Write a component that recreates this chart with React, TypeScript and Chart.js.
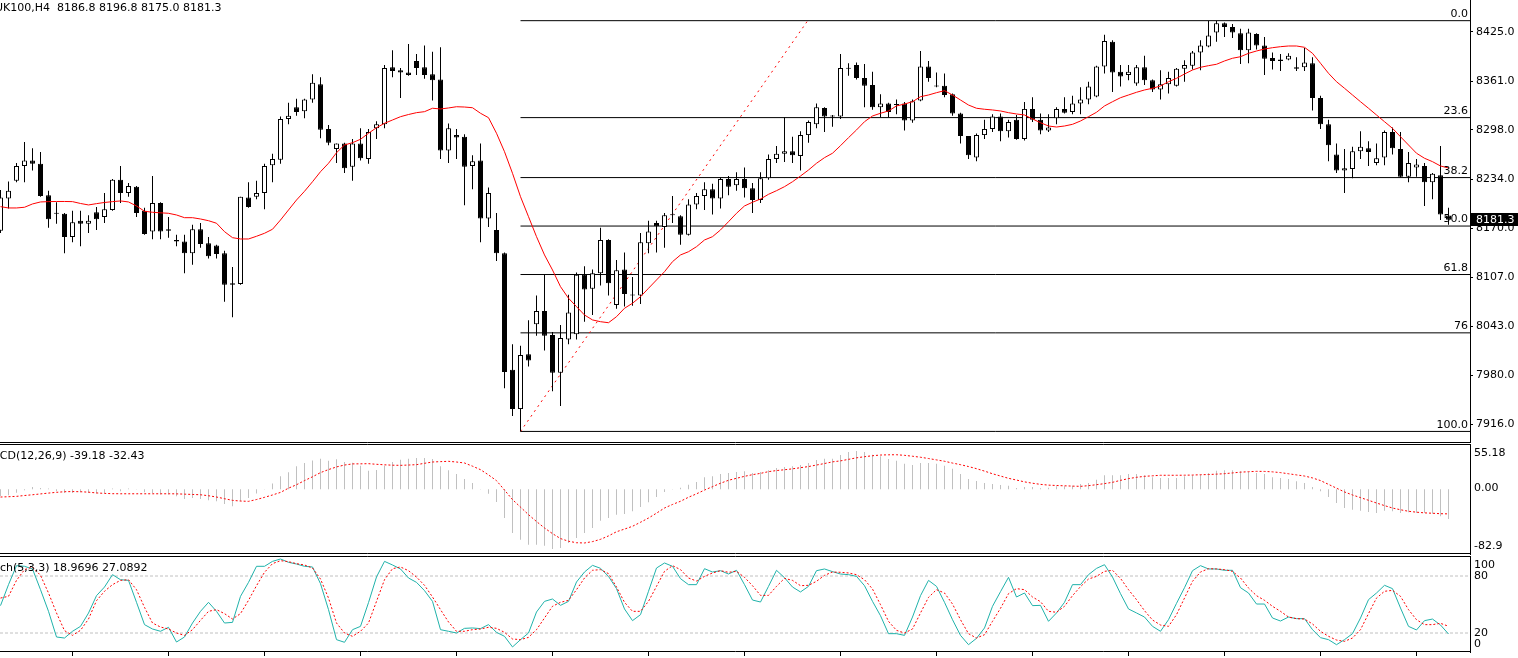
import React, { useEffect, useRef } from "react";
import { Chart, registerables } from "chart.js";

Chart.register(...registerables);

const FONT_FAMILY = '"DejaVu Sans", Verdana, sans-serif';

// ---------------- DATA ----------------
const opens = [
  8167, 8209, 8232, 8251, 8258, 8254, 8213, 8190, 8189, 8159,
  8180, 8176, 8191, 8185, 8194, 8233, 8216, 8224, 8193, 8166,
  8203, 8167, 8155, 8153, 8138, 8169, 8151, 8148, 8138, 8099,
  8098, 8210, 8211, 8216, 8252, 8259, 8312, 8327, 8322, 8337,
  8357, 8299, 8273, 8280, 8250, 8280, 8260, 8300, 8305, 8379,
  8375, 8372, 8387, 8379, 8370, 8363, 8271, 8291, 8289, 8251,
  8258, 8183, 8168, 8138, 7987, 7936, 8007, 8046, 8063, 8032,
  7983, 8026, 8033, 8110, 8092, 8112, 8155, 8071, 8117, 8084,
  8083, 8151, 8177, 8172, 8188, 8186, 8162, 8201, 8212, 8221,
  8209, 8234, 8226, 8234, 8222, 8207, 8235, 8260, 8267, 8270,
  8264, 8291, 8305, 8326, 8316, 8315, 8378, 8382, 8365, 8356,
  8327, 8332, 8331, 8332, 8310, 8336, 8380, 8355, 8355, 8344,
  8319, 8290, 8262, 8291, 8299, 8315, 8296, 8311, 8286, 8325,
  8311, 8297, 8313, 8325, 8321, 8332, 8337, 8341, 8380, 8412,
  8373, 8369, 8358, 8379, 8362, 8350, 8357, 8355, 8377, 8381,
  8398, 8406, 8424, 8436, 8431, 8423, 8401, 8422, 8407, 8391,
  8387, 8389, 8377, 8379, 8384, 8339, 8305, 8266, 8245, 8247,
  8270, 8274, 8255, 8262, 8295, 8273, 8237, 8249, 8251, 8230,
  8239, 8186.8,
];
const highs = [
  8220, 8231, 8255, 8282, 8274, 8269, 8219, 8204, 8190, 8193,
  8193, 8187, 8198, 8216, 8234, 8251, 8229, 8225, 8197, 8238,
  8204, 8185, 8162, 8162, 8175, 8177, 8159, 8149, 8141, 8120,
  8211, 8230, 8232, 8254, 8267, 8315, 8333, 8338, 8338, 8370,
  8366, 8304, 8280, 8281, 8286, 8300, 8299, 8309, 8382, 8401,
  8378, 8409, 8396, 8407, 8399, 8405, 8306, 8299, 8292, 8265,
  8280, 8223, 8190, 8139, 8020, 8018, 8051, 8083, 8111, 8036,
  8045, 8084, 8113, 8121, 8117, 8171, 8156, 8129, 8139, 8107,
  8164, 8180, 8180, 8190, 8212, 8187, 8208, 8216, 8230, 8228,
  8236, 8238, 8243, 8249, 8229, 8243, 8266, 8277, 8314, 8289,
  8296, 8310, 8332, 8327, 8317, 8396, 8384, 8385, 8383, 8373,
  8344, 8333, 8337, 8334, 8337, 8400, 8387, 8372, 8371, 8345,
  8320, 8290, 8293, 8311, 8318, 8319, 8311, 8317, 8334, 8340,
  8319, 8318, 8327, 8340, 8342, 8353, 8360, 8381, 8421, 8414,
  8382, 8382, 8382, 8394, 8363, 8375, 8373, 8378, 8388, 8400,
  8414, 8439, 8439, 8437, 8435, 8429, 8429, 8423, 8418, 8398,
  8396, 8397, 8392, 8404, 8392, 8342, 8311, 8280, 8273, 8276,
  8296, 8283, 8280, 8297, 8301, 8295, 8269, 8260, 8255, 8242,
  8277, 8196.8,
];
const lows = [
  8164, 8196, 8230, 8230, 8245, 8211, 8171, 8176, 8138, 8152,
  8147, 8164, 8168, 8177, 8193, 8203, 8211, 8185, 8162, 8156,
  8156, 8158, 8147, 8112, 8123, 8145, 8131, 8131, 8075, 8055,
  8097, 8197, 8208, 8195, 8230, 8254, 8305, 8316, 8313, 8333,
  8287, 8278, 8255, 8242, 8232, 8258, 8254, 8286, 8300, 8366,
  8339, 8368, 8369, 8364, 8336, 8260, 8255, 8260, 8200, 8221,
  8152, 8172, 8128, 7963, 7927, 7907, 7991, 8031, 8012, 7959,
  7940, 8020, 8026, 8049, 8058, 8096, 8083, 8066, 8069, 8070,
  8072, 8138, 8139, 8145, 8177, 8149, 8161, 8195, 8194, 8188,
  8196, 8213, 8219, 8210, 8190, 8203, 8233, 8255, 8256, 8255,
  8245, 8281, 8300, 8295, 8302, 8312, 8368, 8363, 8327, 8324,
  8314, 8314, 8318, 8297, 8307, 8335, 8360, 8353, 8340, 8316,
  8280, 8260, 8257, 8286, 8295, 8283, 8288, 8285, 8284, 8308,
  8292, 8295, 8305, 8319, 8318, 8318, 8331, 8340, 8371, 8347,
  8354, 8362, 8355, 8356, 8347, 8337, 8345, 8354, 8360, 8376,
  8375, 8405, 8412, 8418, 8417, 8383, 8384, 8402, 8369, 8376,
  8374, 8388, 8374, 8374, 8323, 8299, 8257, 8242, 8216, 8235,
  8260, 8251, 8252, 8252, 8266, 8236, 8230, 8237, 8199, 8208,
  8181, 8175.0,
];
const closes = [
  8210, 8219, 8251, 8258, 8254, 8212, 8182, 8189, 8159, 8178,
  8176, 8180, 8182, 8195, 8233, 8216, 8225, 8190, 8163, 8203,
  8166, 8169, 8153, 8138, 8169, 8150, 8134, 8137, 8097, 8097,
  8211, 8198, 8216, 8251, 8260, 8312, 8316, 8321, 8337, 8359,
  8298, 8281, 8280, 8248, 8280, 8261, 8295, 8305, 8378, 8374,
  8372, 8369, 8378, 8369, 8362, 8271, 8300, 8288, 8250, 8257,
  8183, 8216, 8138, 7984, 7936, 8006, 7999, 8063, 8031, 7983,
  8028, 8061, 8110, 8091, 8112, 8155, 8099, 8116, 8085, 8083,
  8152, 8166, 8173, 8187, 8187, 8162, 8201, 8212, 8221, 8209,
  8234, 8224, 8234, 8222, 8207, 8235, 8260, 8267, 8270, 8265,
  8291, 8308, 8327, 8315, 8315, 8378, 8377, 8365, 8355, 8327,
  8332, 8321, 8330, 8310, 8335, 8380, 8365, 8354, 8343, 8319,
  8290, 8265, 8291, 8299, 8315, 8296, 8308, 8286, 8325, 8311,
  8297, 8301, 8325, 8320, 8332, 8337, 8354, 8380, 8413, 8372,
  8367, 8373, 8379, 8362, 8350, 8357, 8365, 8377, 8382, 8398,
  8407, 8420, 8436, 8431, 8424, 8401, 8424, 8407, 8390, 8387,
  8389, 8394, 8379, 8385, 8339, 8305, 8278, 8245, 8248, 8270,
  8276, 8269, 8261, 8295, 8274, 8237, 8255, 8253, 8230, 8241,
  8188, 8181.3,
];
const maValues = [
  8198.3, 8196.6, 8196.6, 8197.5, 8201.8, 8204.4, 8204.8, 8205.0, 8205.0, 8204.8,
  8202.4, 8200.5, 8202.2, 8203.7, 8204.8, 8205.7, 8204.4, 8199.2, 8192.3, 8191.0,
  8190.3, 8189.7, 8187.5, 8184.0, 8184.0, 8182.3, 8180.1, 8176.8, 8165.9, 8158.1,
  8156.4, 8156.4, 8159.9, 8163.8, 8169.0, 8181.0, 8194.0, 8206.9, 8218.2, 8230.6,
  8243.6, 8254.5, 8268.2, 8278.2, 8281.2, 8285.6, 8293.4, 8300.6, 8306.3, 8310.6,
  8314.9, 8317.7, 8320.1, 8321.4, 8325.8, 8324.9, 8326.2, 8327.8, 8327.4, 8326.5,
  8319.3, 8313.6, 8293.4, 8269.5, 8241.5, 8211.2, 8185.3, 8159.4, 8135.7, 8116.2,
  8094.6, 8079.6, 8068.7, 8057.9, 8051.5, 8049.2, 8047.9, 8055.7, 8066.6, 8073.1,
  8081.6, 8092.5, 8103.3, 8114.0, 8127.0, 8135.7, 8139.9, 8146.4, 8155.1, 8159.4,
  8168.1, 8178.8, 8189.7, 8199.2, 8204.0, 8208.2, 8214.3, 8219.0, 8224.2, 8230.6,
  8238.0, 8245.8, 8254.5, 8261.8, 8267.5, 8277.3, 8287.7, 8297.7, 8308.4, 8315.8,
  8319.3, 8322.3, 8328.8, 8331.3, 8334.3, 8340.8, 8343.0, 8346.0, 8348.6, 8343.0,
  8336.5, 8330.0, 8325.8, 8324.5, 8323.6, 8322.3, 8320.1, 8318.4, 8317.1, 8311.9,
  8307.1, 8302.8, 8301.5, 8302.8, 8305.0, 8309.3, 8314.9, 8320.6, 8328.8, 8334.3,
  8339.5, 8343.0, 8346.5, 8349.5, 8351.7, 8354.7, 8360.2, 8364.6, 8370.2, 8375.4,
  8378.9, 8381.0, 8382.8, 8387.1, 8390.6, 8392.6, 8397.0, 8400.0, 8402.6, 8404.3,
  8405.6, 8406.5, 8406.5, 8404.8, 8397.0, 8384.1, 8371.1, 8360.2, 8351.7, 8343.0,
  8334.3, 8325.8, 8317.1, 8308.4, 8299.8, 8288.9, 8278.2, 8267.5, 8261.0, 8256.6,
  8251.0, 8248.4,
];
const macdMain = [
  -9, -8, -4.4, -1.3, 3, 1.8, 1, -2.6, -4.8, -4.8,
  -3.9, -4.8, -5.7, -4.8, 1, -2.6, 1, 0.3, -3.9, -4.8,
  -7, -7, -9.2, -12.7, -11.4, -12.7, -14.5, -15.8, -19.3, -22.4,
  -15.8, -11.4, -5.7, 0.5, 7.5, 17.1, 22.4, 30.3, 34.7, 38,
  40.4, 37.5, 39.5, 36, 35, 31, 24.5, 25.5, 31, 36,
  39, 40.4, 41.3, 41.3, 40, 30.3, 25, 20.2, 13.6, 8.3,
  0.4, -5.8, -16.8, -37.9, -57.6, -66.5, -73.1, -73.1, -74.4, -78.7,
  -77.4, -70.8, -64.2, -57.6, -51, -41.4, -37.9, -33.5, -32.6, -29,
  -23.3, -17.2, -10.2, -3.6, 0.5, 2.1, 6.1, 9.6, 15.8, 17.1,
  20.2, 21.5, 22.8, 23.7, 21.5, 22.8, 25, 28.1, 29.4, 30.3,
  32, 34.7, 38.6, 40.4, 40.4, 45.2, 49.2, 50.5, 49.2, 45.6,
  43.5, 40, 37.7, 33.8, 32, 34.7, 34.7, 33.8, 31.1, 27.2,
  20.2, 13.6, 10.9, 8.3, 7, 5.7, 4.8, 1.7, 3, 3,
  1.3, 2.1, 3.9, 3.9, 4.8, 7, 8.3, 12.7, 18.5, 18.5,
  18.5, 20.2, 20.2, 18.5, 15.8, 14.9, 14.9, 14.9, 17.1, 18.5,
  19.3, 21.5, 24.5, 25, 25, 23.7, 22.8, 21.5, 20.2, 15.8,
  14.9, 13.6, 10.5, 8.3, 3, -2.6, -10.2, -18.1, -24.7, -26.9,
  -28.2, -29.9, -31.3, -28.2, -29, -31.3, -30.4, -31.3, -31.3, -32.2,
  -35.6, -39.18,
];
const macdSignal = [
  -10.2, -9.8, -9.3, -8.2, -7.2, -6.1, -5, -4, -3.2, -3,
  -3.2, -3.8, -4.8, -5.4, -5.8, -5.9, -5.9, -5.9, -5.9, -5.9,
  -5.9, -5.9, -6, -6.4, -6.8, -7.2, -8.5, -10.2, -12.4, -14.6,
  -15.5, -15.9, -13.5, -10.6, -7.5, -4.1, 1.5, 6, 11.5, 16.5,
  22, 26, 29.5, 32, 33.5, 33.6, 33.8, 33, 32.3, 31.8,
  31.6, 32, 32.5, 34.3, 36, 36.5, 36.9, 36, 34.7, 30.5,
  25.9, 19, 11.4, -1, -13.6, -23.5, -33.5, -42.5, -51, -58.5,
  -65, -68.5, -70.5, -70.8, -69, -66, -61.5, -56, -52.5, -48.8,
  -43.5, -37.9, -31.5, -24.7, -20, -15.8, -10.5, -6, -1, 3.5,
  8, 11.9, 14.5, 17.1, 19.3, 21, 23.3, 24.7, 25.8, 27,
  28.5, 30, 32, 34, 36.2, 37.5, 39.5, 41.5, 43, 44.3,
  45.2, 45.5, 45.6, 44.8, 43.6, 42.3, 40.6, 38.8, 37, 34.6,
  32.5, 30, 27.2, 24, 20.5, 17.5, 14.5, 12.2, 9.8, 8,
  6.5, 5.5, 5, 4.6, 4.2, 3.9, 4.8, 6.1, 7.5, 9.2,
  11.8, 14.1, 15.8, 17.1, 17.8, 18.5, 18.5, 18.5, 18.6, 18.8,
  19.2, 19.5, 20, 20.6, 21.6, 22.6, 23.2, 23.7, 23.6, 23,
  22, 20.5, 19, 17.5, 15, 11.5, 6.5, 1.5, -3.5, -7.5,
  -11, -14.5, -18.1, -21.5, -24.7, -27, -29, -30.2, -31.1, -31.6,
  -32.2, -32.43,
];
const stochMain = [
  48.8, 70.9, 90.9, 90.2, 87.4, 65.6, 42.8, 15.8, 14.7, 21.8,
  27, 41, 59.3, 68.4, 81.4, 76.1, 75.4, 52.3, 28.8, 24.2,
  21.8, 26, 10.5, 15.8, 30.5, 42.8, 52.3, 42.8, 30.5, 31.2,
  58.6, 73.3, 90.2, 90.2, 95.4, 97.9, 94.4, 92.6, 90.2, 89.5,
  71.9, 44.6, 13, 10.2, 23.5, 27, 52, 79, 95.4, 91.6,
  87.4, 77.9, 73.3, 64.6, 53.3, 23.5, 21.8, 20, 24.9, 25.3,
  24.6, 28.8, 20.7, 16.5, 5.3, 13, 20, 42.1, 53.3, 55.8,
  49.1, 53.3, 73.7, 84.2, 91.2, 88.1, 79.6, 66.7, 45.3, 33,
  39.3, 63.9, 88.4, 93.7, 90.2, 77.2, 70.9, 70.9, 87.7, 84.2,
  85.6, 82.1, 86, 70.9, 54.7, 52.6, 69.1, 86, 78.2, 68.4,
  63.2, 69.1, 85.6, 87.4, 84.6, 82.1, 81.4, 79.6, 69.8, 53.3,
  38.2, 19.3, 19.3, 17.5, 36.8, 59.3, 75.4, 69.1, 52.3, 34,
  17.5, 7.7, 14.4, 25.3, 48.1, 63.5, 78.6, 57.9, 62.1, 48.8,
  49.1, 32.3, 41.1, 52.3, 70.9, 70.9, 81.4, 88, 91.9, 78.9,
  61.4, 45.3, 41.1, 36.8, 27, 21.8, 34, 51.2, 67.7, 85.6,
  90.9, 87.4, 87.4, 86, 86, 67.7, 62.1, 50.5, 50.5, 35.8,
  32.6, 36.8, 35.1, 35.1, 23.5, 15.1, 13, 7.7, 13, 19.3,
  35.8, 55.1, 62.1, 70.2, 66.7, 46.3, 27, 23.2, 33, 34.7,
  28.4, 18.9696,
];
const stochSignal = [
  56.8, 58.6, 75.4, 86.7, 89.5, 80.7, 62.1, 41.1, 22.5, 17.5,
  22.8, 34.7, 54, 63.9, 70.9, 75.4, 76.1, 65.6, 47, 30.5,
  26.3, 24.2, 20, 17.5, 23.5, 33.3, 42.8, 44.6, 40.4, 34.7,
  40.4, 54.4, 69.8, 83.9, 93, 96.1, 95.1, 93, 91.6, 88.4,
  76.8, 56.8, 30.5, 20, 16.5, 21.8, 30.5, 53.3, 76.1, 87.7,
  89.5, 85.6, 78.9, 70.2, 57.9, 44.6, 31.6, 21.8, 21.8, 23.5,
  24.2, 26, 24.9, 20.7, 13.7, 13, 15.4, 23.5, 35.8, 48.1,
  52.3, 54.4, 65.6, 77.9, 86, 86.7, 82.5, 68.4, 52.3, 42.8,
  42.8, 53.3, 69.1, 84.9, 90.9, 86.7, 77.9, 74.7, 79.6, 83.2,
  85.6, 83.9, 84.9, 78.6, 69.8, 59.6, 59.6, 69.1, 77.5, 75.4,
  69.8, 70.2, 74.4, 80.7, 84.2, 83.9, 83.2, 81.4, 76.1, 66.3,
  49.8, 32.3, 22.8, 20, 24.2, 41.1, 57.5, 65.6, 62.1, 50.5,
  34, 19.3, 14.7, 18.2, 32.3, 46, 61.4, 66.7, 65.6, 57.9,
  53, 42.8, 41.8, 48.1, 59.3, 68.8, 76.8, 79.6, 84.9, 86,
  77.5, 65.6, 55.1, 43.5, 33.7, 28.4, 27, 39.3, 56.8, 74.4,
  84.2, 87.7, 87.4, 86.7, 84.9, 77.9, 67.4, 59.3, 54.4, 48.1,
  42.8, 36.8, 35.1, 34.7, 29.5, 21.8, 16.5, 12.6, 11.2, 14.7,
  23.5, 40.4, 56.8, 63.9, 64.9, 58.6, 44.6, 34, 28.8, 28.8,
  30.2, 27.0892,
];

const priceTicks = [8425, 8361, 8298, 8234, 8170, 8107, 8043, 7980, 7916];
const timeTickIndex = [9, 21, 33, 45, 57, 69, 81, 93, 105, 117, 129, 141, 153, 165, 177];

const fibHigh = 8439.3;
const fibLow = 7907.0;
const fibLevels = [0, 23.6, 38.2, 50, 61.8, 76, 100];
const fibLabels = ["0.0", "23.6", "38.2", "50.0", "61.8", "76", "100.0"];
const fibStartIndex = 65;
const fibTrendEndIndex = 100.9;

const lastPrice = 8181.3;
const lastPriceLabel = "8181.3";
const chartTitle = "UK100,H4  8186.8 8196.8 8175.0 8181.3";
const macdTitle = "MACD(12,26,9) -39.18 -32.43";
const stochTitle = "Stoch(5,3,3) 18.9696 27.0892";

const macdAxisLabels = [
  { value: 55.18, text: "55.18", dy: 6 },
  { value: 0, text: "0.00", dy: -1 },
  { value: -82.9, text: "-82.9", dy: -5.5 },
];
const stochAxisLabels = [
  { value: 100, text: "100", dy: 8 },
  { value: 80, text: "80", dy: 0.5 },
  { value: 20, text: "20", dy: 0.3 },
  { value: 0, text: "0", dy: -8 },
];
const stochLevels = [20, 80];

// ---------------- LAYOUT ----------------
const W = 1518;
const H = 658;
const X_MIN = -0.0625;
const X_MAX = 183.6875;
const AXIS_W = 48;

const fibPrice = (lv: number) => fibHigh - ((fibHigh - fibLow) * lv) / 100;
const toXY = (arr: number[]) => arr.map((v, i) => ({ x: i, y: v }));

function drawText(ctx: CanvasRenderingContext2D, text: string, x: number, y: number, align: CanvasTextAlign = "left", color = "#000000") {
  ctx.fillStyle = color;
  ctx.textAlign = align;
  ctx.textBaseline = "middle";
  ctx.fillText(text, x, y);
}
function hLine(ctx: CanvasRenderingContext2D, x0: number, x1: number, y: number) {
  ctx.beginPath();
  ctx.moveTo(x0, y);
  ctx.lineTo(x1, y);
  ctx.stroke();
}

function hiddenX() {
  return {
    type: "linear",
    min: X_MIN,
    max: X_MAX,
    display: false,
    offset: false,
    grid: { display: false, offset: false },
  };
}
function plainRightY(min: number, max: number) {
  return {
    type: "linear",
    position: "right",
    min,
    max,
    afterFit: (s: any) => {
      s.width = AXIS_W;
      s.paddingTop = 0;
      s.paddingBottom = 0;
    },
    ticks: { display: false },
    grid: { display: false },
    border: { display: true, color: "#000000", width: 1 },
  };
}
const baseOptions = {
  responsive: false,
  maintainAspectRatio: false,
  animation: false,
  events: [],
  plugins: { legend: { display: false }, tooltip: { enabled: false }, title: { display: false } },
};

function mainConfig(): any {
  const bodyColors = opens.map((o, i) => (closes[i] >= o ? "#ffffff" : "#000000"));
  const datasets: any[] = [
    { type: "line", data: toXY(maValues), borderColor: "#ff0000", borderWidth: 1, pointRadius: 0, tension: 0, order: 0 },
    {
      type: "bar",
      data: opens.map((o, i) => ({ x: i, y: [o, closes[i]] })),
      backgroundColor: bodyColors,
      borderColor: "#000000",
      borderWidth: 1,
      borderSkipped: false,
      barThickness: 5,
      grouped: false,
      inflateAmount: 0,
      minBarLength: 1,
      order: 1,
    },
    {
      type: "bar",
      data: lows.map((l, i) => ({ x: i, y: [l, highs[i]] })),
      backgroundColor: "#000000",
      borderWidth: 0,
      barThickness: 1,
      grouped: false,
      inflateAmount: 0,
      order: 2,
    },
    {
      type: "line",
      data: [
        { x: fibStartIndex, y: fibLow },
        { x: fibTrendEndIndex, y: fibHigh },
      ],
      borderColor: "#ff0000",
      borderWidth: 1,
      borderDash: [2, 4],
      pointRadius: 0,
      order: 3,
    },
    ...fibLevels.map((lv) => ({
      type: "line",
      data: [
        { x: fibStartIndex, y: fibPrice(lv) },
        { x: X_MAX, y: fibPrice(lv) },
      ],
      borderColor: "#000000",
      borderWidth: 1,
      pointRadius: 0,
      order: 4,
    })),
  ];
  return {
    type: "bar",
    data: { datasets },
    options: {
      ...baseOptions,
      layout: { padding: { left: 0, right: 0, top: 0, bottom: H - 442 } },
      scales: {
        x: hiddenX(),
        y: {
          type: "linear",
          position: "right",
          min: 7893.3,
          max: 8466.1,
          afterBuildTicks: (s: any) => {
            s.ticks = priceTicks.map((v) => ({ value: v }));
          },
          afterFit: (s: any) => {
            s.width = AXIS_W;
            s.paddingTop = 0;
            s.paddingBottom = 0;
          },
          ticks: {
            color: "#000000",
            font: { family: FONT_FAMILY, size: 11 },
            padding: 3,
            autoSkip: false,
            callback: (v: any) => Number(v).toFixed(1),
          },
          grid: { drawOnChartArea: false, drawTicks: true, tickLength: 3, color: "#000000" },
          border: { display: true, color: "#000000", width: 1 },
        },
      },
    },
    plugins: [
      {
        id: "mainDecor",
        afterDraw(chart: any) {
          const { ctx, chartArea, scales } = chart;
          const y = scales.y;
          ctx.save();
          ctx.font = `11px ${FONT_FAMILY}`;
          ctx.strokeStyle = "#000000";
          ctx.lineWidth = 1;
          hLine(ctx, 0, chartArea.right + 1, chartArea.bottom + 0.5);
          drawText(ctx, chartTitle, -5, 8.5);
          fibLevels.forEach((lv, k) => {
            const py = y.getPixelForValue(fibPrice(lv));
            drawText(ctx, fibLabels[k], chartArea.right - 2, py - 6.5, "right");
          });
          const ly = y.getPixelForValue(lastPrice);
          ctx.fillStyle = "#000000";
          ctx.fillRect(chartArea.right + 1, Math.round(ly) - 7, AXIS_W, 13);
          drawText(ctx, lastPriceLabel, chartArea.right + 6, ly, "left", "#ffffff");
          ctx.restore();
        },
      },
    ],
  };
}

function macdConfig(): any {
  return {
    type: "bar",
    data: {
      datasets: [
        {
          type: "line",
          data: toXY(macdSignal),
          borderColor: "#ff0000",
          borderWidth: 1,
          borderDash: [2, 2],
          pointRadius: 0,
          tension: 0,
          order: 0,
        },
        {
          type: "bar",
          data: toXY(macdMain),
          backgroundColor: "#c0c0c0",
          borderWidth: 0,
          barThickness: 1,
          grouped: false,
          inflateAmount: 0,
          order: 1,
        },
      ],
    },
    options: {
      ...baseOptions,
      layout: { padding: { left: 0, right: 0, top: 444, bottom: H - 554 } },
      scales: { x: hiddenX(), y: plainRightY(-85.36, 59.76) },
    },
    plugins: [
      {
        id: "macdDecor",
        afterDraw(chart: any) {
          const { ctx, chartArea, scales } = chart;
          ctx.save();
          ctx.font = `11px ${FONT_FAMILY}`;
          ctx.strokeStyle = "#000000";
          ctx.lineWidth = 1;
          hLine(ctx, 0, chartArea.right + 1, chartArea.top + 0.5);
          hLine(ctx, 0, chartArea.right + 1, chartArea.bottom - 0.5);
          drawText(ctx, macdTitle, -17, chartArea.top + 12.5);
          macdAxisLabels.forEach((l) => {
            drawText(ctx, l.text, chartArea.right + 4, scales.y.getPixelForValue(l.value) + l.dy);
          });
          ctx.restore();
        },
      },
    ],
  };
}

function stochConfig(): any {
  return {
    type: "line",
    data: {
      datasets: [
        {
          data: toXY(stochSignal),
          borderColor: "#ff0000",
          borderWidth: 1,
          borderDash: [2, 2],
          pointRadius: 0,
          tension: 0,
          order: 0,
        },
        {
          data: toXY(stochMain),
          borderColor: "#20b2aa",
          borderWidth: 1,
          pointRadius: 0,
          tension: 0,
          order: 1,
        },
        ...stochLevels.map((lv) => ({
          data: [
            { x: X_MIN, y: lv },
            { x: X_MAX, y: lv },
          ],
          borderColor: "#c0c0c0",
          borderWidth: 1,
          borderDash: [3, 2],
          pointRadius: 0,
          order: 2,
        })),
      ],
    },
    options: {
      ...baseOptions,
      layout: { padding: { left: 0, right: 0, top: 557, bottom: 0 } },
      scales: {
        x: {
          type: "linear",
          position: "bottom",
          min: X_MIN,
          max: X_MAX,
          offset: false,
          afterBuildTicks: (s: any) => {
            s.ticks = timeTickIndex.map((v) => ({ value: v }));
          },
          afterFit: (s: any) => {
            s.height = 6;
            s.paddingLeft = 0;
            s.paddingRight = 0;
          },
          ticks: { display: false },
          grid: { display: true, drawOnChartArea: false, drawTicks: true, tickLength: 4, color: "#000000", offset: false },
          border: { display: false },
        },
        y: plainRightY(0, 100),
      },
    },
    plugins: [
      {
        id: "stochDecor",
        afterDraw(chart: any) {
          const { ctx, chartArea, scales } = chart;
          ctx.save();
          ctx.font = `11px ${FONT_FAMILY}`;
          ctx.strokeStyle = "#000000";
          ctx.lineWidth = 1;
          hLine(ctx, 0, chartArea.right + 1, chartArea.top - 0.5);
          hLine(ctx, 0, chartArea.right + 1, chartArea.bottom - 0.5);
          drawText(ctx, stochTitle, -18, chartArea.top + 11);
          stochAxisLabels.forEach((l) => {
            drawText(ctx, l.text, chartArea.right + 4, scales.y.getPixelForValue(l.value) + l.dy);
          });
          ctx.restore();
        },
      },
    ],
  };
}

export default function App() {
  const mainRef = useRef<HTMLCanvasElement>(null);
  const macdRef = useRef<HTMLCanvasElement>(null);
  const stochRef = useRef<HTMLCanvasElement>(null);

  useEffect(() => {
    Chart.defaults.font.family = FONT_FAMILY;
    const charts: Chart[] = [];
    if (mainRef.current) charts.push(new Chart(mainRef.current, mainConfig()));
    if (macdRef.current) charts.push(new Chart(macdRef.current, macdConfig()));
    if (stochRef.current) charts.push(new Chart(stochRef.current, stochConfig()));
    return () => charts.forEach((c) => c.destroy());
  }, []);

  const cs: React.CSSProperties = { position: "absolute", left: 0, top: 0, width: W, height: H };
  return (
    <div style={{ position: "fixed", left: 0, top: 0, width: W, height: H, background: "#ffffff", overflow: "hidden" }}>
      <canvas ref={mainRef} width={W} height={H} style={cs} />
      <canvas ref={macdRef} width={W} height={H} style={cs} />
      <canvas ref={stochRef} width={W} height={H} style={cs} />
    </div>
  );
}
